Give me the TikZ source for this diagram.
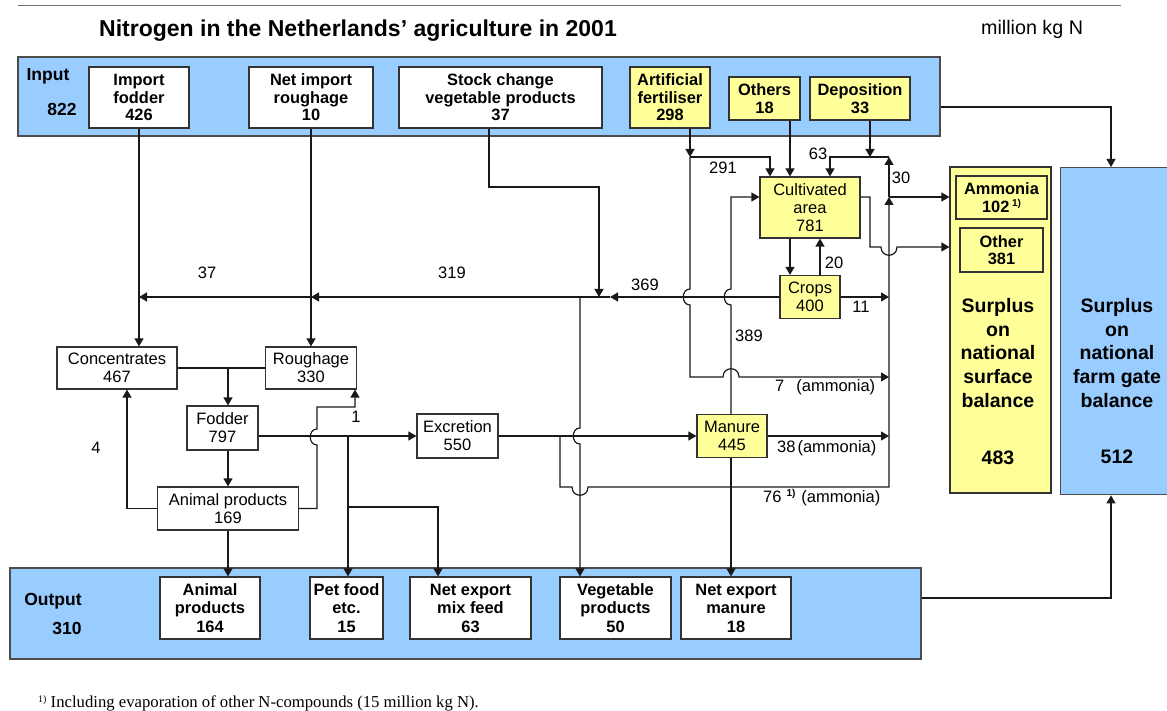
\documentclass[tikz,border=0pt]{standalone}
\usepackage{fontspec}
\setmainfont{Liberation Sans}
\newfontfamily\footserif{Liberation Serif}
\usetikzlibrary{arrows.meta}
\definecolor{barblue}{HTML}{99CCFF}
\definecolor{boxyellow}{HTML}{FFFF99}
\newcommand\fbx{\fontsize{16.4}{17.6}\selectfont\bfseries}
\newcommand\fob{\fontsize{16.4}{18.5}\selectfont\bfseries}
\newcommand\frg{\fontsize{16.5}{18}\selectfont}
\newcommand\fsur{\fontsize{19.5}{23.7}\selectfont\bfseries}
\newcommand\fio{\fontsize{17.5}{20}\selectfont\bfseries}
\newcommand\supone{\raisebox{6pt}{\fontsize{10}{10}\selectfont\bfseries 1)}}
\begin{document}
\begin{tikzpicture}[x=1pt,y=-1pt,
 ln/.style={line width=1.2pt,draw=black!90},
 arr/.style={ln,-{Triangle[length=8pt,width=9pt]}},
 bar/.style={draw=black!70,line width=1.4pt,fill=barblue,inner sep=0pt},
 wbox/.style={draw=black!80,line width=1.2pt,fill=white,inner sep=1pt,align=center},
 ybox/.style={wbox,fill=boxyellow},
 lbl/.style={inner sep=0pt,font=\frg},
 txt/.style={inner sep=0pt,align=center}]
\useasboundingbox (0,0) rectangle (1167,711);
\draw[black!55,line width=1pt] (18,6) -- (1121,6);
\node[anchor=west,inner sep=0pt,font=\fontsize{23}{27}\selectfont\bfseries] (title) at (99,31) {Nitrogen in the Netherlands’ agriculture in 2001};
\node[anchor=west,inner sep=0pt,font=\fontsize{19.7}{22}\selectfont] (unit) at (981,29) {million kg N};

% input bar
\node[bar,minimum width=922pt,minimum height=79pt] (inbar) at (479,96.5) {};
\node[txt,font=\fio] (inlbl) at (48,76) {Input};
\node[txt,font=\fio] (innum) at (62,109) {822};
\node[wbox,font=\fbx,minimum width=100pt,minimum height=61pt] (impf) at (139,97.5) {Import\\fodder\\426};
\node[wbox,font=\fbx,minimum width=124pt,minimum height=61pt] (nir) at (311,97.5) {Net import\\roughage\\10};
\node[wbox,font=\fbx,minimum width=203pt,minimum height=61pt] (stock) at (500.5,97.5) {Stock change\\vegetable products\\37};
\node[ybox,font=\fbx,minimum width=80pt,minimum height=61pt] (fert) at (670,97.5) {Artificial\\fertiliser\\298};
\node[ybox,font=\fbx,minimum width=71pt,minimum height=43pt] (oth) at (764.5,98.5) {Others\\18};
\node[ybox,font=\fbx,minimum width=100pt,minimum height=43pt] (dep) at (860,98.5) {Deposition\\33};

% surplus boxes
\node[ybox,inner sep=0pt,minimum width=101pt,minimum height=326pt] (surf) at (1000.5,330) {};
\node[txt,font=\fsur] (surftxt) at (998,353) {Surplus\\on\\national\\surface\\balance};
\node[txt,font=\fsur] (surfnum) at (998,458) {483};
\node[ybox,font=\fbx,minimum width=91pt,minimum height=43pt] (amm) at (1001.5,197.5) {Ammonia\\102\,\supone};
\node[ybox,font=\fbx,minimum width=83pt,minimum height=44pt] (othr) at (1001.5,250) {Other\\381};
\node[bar,anchor=north west,minimum width=108pt,minimum height=327pt] (farm) at (1060,167) {};
\node[txt,font=\fsur] (farmtxt) at (1117,353) {Surplus\\on\\national\\farm gate\\balance};
\node[txt,font=\fsur] (farmnum) at (1117,457) {512};

% middle boxes
\node[wbox,font=\frg,minimum width=120pt,minimum height=42pt] (conc) at (117,368) {Concentrates\\467};
\node[wbox,font=\frg,minimum width=91pt,minimum height=42pt] (rough) at (311,368) {Roughage\\330};
\node[wbox,font=\frg,minimum width=71pt,minimum height=44pt] (fod) at (222.5,428) {Fodder\\797};
\node[wbox,font=\frg,minimum width=141pt,minimum height=43pt] (anim) at (228,508.5) {Animal products\\169};
\node[wbox,font=\frg,minimum width=81pt,minimum height=44pt] (excr) at (457.5,436) {Excretion\\550};
\node[ybox,font=\frg,minimum width=70pt,minimum height=43pt] (man) at (732,436) {Manure\\445};
\node[ybox,font=\frg,minimum width=100pt,minimum height=61pt] (cult) at (810,207.5) {Cultivated\\area\\781};
\node[ybox,font=\frg,minimum width=60pt,minimum height=43pt] (crops) at (810,297) {Crops\\400};

% output bar
\node[bar,minimum width=911pt,minimum height=91pt] (outbar) at (465.5,613.5) {};
\node[txt,font=\fio] (outlbl) at (53,601) {Output};
\node[txt,font=\fio] (outnum) at (67,628) {310};
\node[wbox,font=\fob,minimum width=100pt,minimum height=62pt] (oanim) at (210,608) {Animal\\products\\164};
\node[wbox,font=\fob,minimum width=73pt,minimum height=62pt] (opet) at (346.5,608) {Pet food\\etc.\\15};
\node[wbox,font=\fob,minimum width=121pt,minimum height=62pt] (omix) at (470.5,608) {Net export\\mix feed\\63};
\node[wbox,font=\fob,minimum width=111pt,minimum height=62pt] (oveg) at (615.5,608) {Vegetable\\products\\50};
\node[wbox,font=\fob,minimum width=110pt,minimum height=62pt] (oman) at (736,608) {Net export\\manure\\18};

% coordinates
\coordinate (hl) at (139,297);
\coordinate (hr) at (311,297);
\coordinate (h369) at (610,297);
\coordinate (s1) at (489,187);
\coordinate (s2) at (599,187);
\coordinate (s3) at (599,297);
\coordinate (v1) at (580,297);
\coordinate (p1) at (348,436);
\coordinate (p2) at (348,507);
\coordinate (p3) at (438,507);
\coordinate (cr) at (228,368);
\coordinate (ac) at (127,507);
\coordinate (ar) at (355,407);
\coordinate (e1) at (560,436);
\coordinate (e2) at (560,487);
\coordinate (rv1) at (889,487);
\coordinate (rv2) at (889,197);
\coordinate (rv3) at (889,157);
\coordinate (mc) at (731,197);
\coordinate (f1) at (690,157);
\coordinate (f2) at (770,157);
\coordinate (ox) at (790,177);
\coordinate (cx) at (820,260);
\coordinate (d1) at (870,157);
\coordinate (d2) at (830,157);
\coordinate (c1) at (870,197);
\coordinate (c2) at (870,247);
\coordinate (g1) at (1111,598);
\coordinate (g2) at (1111,107);

% connectors
\draw[arr] (impf.south) -- (impf.south |- conc.north);
\draw[arr] (nir.south) -- (rough.north);
\draw[arr] (crops.west) -- (h369);
\draw[arr] (h369) -- (hr);
\draw[arr] (hr) -- (hl);
\draw[arr] (stock.south -| s1) -- (s1) -- (s2) -- (s3);
\draw[arr] (v1) -- (580,428) .. controls (571,428) and (571,444) .. (580,444) -- (v1 |- oveg.north);
\draw[ln] (conc.east) -- (rough.west);
\draw[arr] (cr) -- (cr |- fod.north);
\draw[arr] (fod.south -| anim.north) -- (anim.north);
\draw[arr] (anim.south) -- (anim.south |- oanim.north);
\draw[arr] (anim.west) -- (anim.west -| ac) -- (ac |- conc.south);
\draw[arr] (anim.east) -- (317,508.5) -- (317,445) .. controls (308,445) and (308,429) .. (317,429) -- (317,407) -- (ar) -- (ar |- rough.south);
\draw[arr] (fod.east |- excr.west) -- (excr.west);
\draw[arr] (p1) -- (p1 |- opet.north);
\draw[arr] (p2) -- (p3) -- (p3 |- omix.north);
\draw[arr] (excr.east) -- (man.west);
\draw[arr] (e1) -- (e2) -- (572,487) .. controls (572,498) and (588,498) .. (588,487) -- (rv1) -- (rv2);
\draw[arr] (rv2) -- (rv3);
\draw[arr] (rv2) -- (surf.west |- rv2);
\draw[arr] (man.south -| mc) -- (mc |- oman.north);
\draw[arr] (man.north -| mc) -- (731,305) .. controls (722,305) and (722,289) .. (731,289) -- (mc) -- (cult.west |- mc);
\draw[arr] (fert.south -| f1) -- (f1);
\draw[arr] (f1) -- (f2) -- (f2 |- cult.north);
\draw[arr] (f1) -- (690,289) .. controls (681,289) and (681,305) .. (690,305) -- (690,377) -- (723,377) .. controls (723,366) and (739,366) .. (739,377) -- (rv1 |- 0,377);
\draw[arr] (oth.south -| ox) -- (ox |- cult.north);
\draw[arr] (dep.south -| d1) -- (d1);
\draw[arr] (rv3) -- (d2) -- (d2 |- cult.north);
\draw[arr] (cult.east |- c1) -- (c1) -- (c2) -- (881,247) .. controls (881,258) and (897,258) .. (897,247) -- (surf.west |- c2);
\draw[arr] (cult.south -| ox) -- (crops.north -| ox);
\draw[arr] (crops.north -| cx) -- (cult.south -| cx);
\draw[arr] (crops.east) -- (crops.east -| rv2);
\draw[arr] (man.east) -- (man.east -| rv2);
\draw[arr] (outbar.east |- g1) -- (g1) -- (farm.south -| g1);
\draw[arr] (inbar.east |- g2) -- (g2) -- (farm.north -| g2);

% labels
\node[lbl] (l37) at (207,273) {37};
\node[lbl] (l319) at (452,273) {319};
\node[lbl] (l369) at (645,285) {369};
\node[lbl] (l291) at (723,168) {291};
\node[lbl] (l63) at (818,154) {63};
\node[lbl] (l30) at (901,178) {30};
\node[lbl] (l20) at (834,263) {20};
\node[lbl] (l11) at (861,307) {11};
\node[lbl] (l389) at (749,336) {389};
\node[lbl,anchor=west] (l7) at (775,387) {7\hspace{12pt}(ammonia)};
\node[lbl,anchor=west] (l38) at (777,448) {38\hspace{2pt}(ammonia)};
\node[lbl,anchor=west] (l76) at (763,498) {76\hspace{5pt}\supone\hspace{6pt}(ammonia)};
\node[lbl] (l4) at (96,448) {4};
\node[lbl] (l1) at (356,417) {1};
\node[anchor=west,inner sep=0pt,font=\footserif\fontsize{16.7}{18}\selectfont] (foot) at (38,703) {\raisebox{5pt}{\fontsize{10}{10}\selectfont 1)} Including evaporation of other N-compounds (15 million kg N).};
\end{tikzpicture}
\end{document}
